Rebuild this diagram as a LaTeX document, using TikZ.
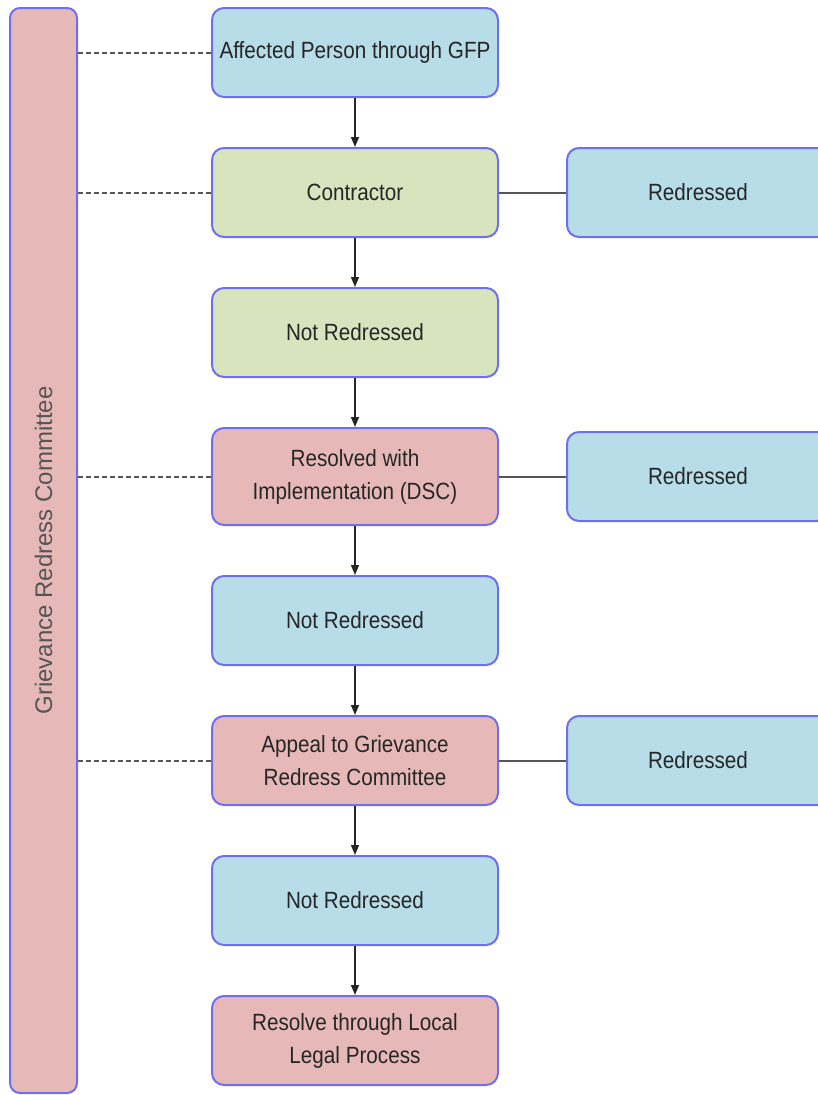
\documentclass[tikz,border=0pt]{standalone}
\usepackage{fontspec}
\setmainfont{Liberation Sans}
\newfontfamily\boxfont{Liberation Sans}[FakeStretch=0.88]
\usetikzlibrary{arrows.meta,positioning}
\usepackage{xcolor}
\definecolor{sky}{HTML}{B7DDE8}
\definecolor{leaf}{HTML}{D7E4BD}
\definecolor{rose}{HTML}{E6B9B8}
\definecolor{edge}{HTML}{6F6FEE}
\definecolor{ink}{HTML}{262626}
\definecolor{wire}{HTML}{555555}
\tikzset{
  base/.style={font=\boxfont\fontsize{23.5}{33}\selectfont,text=ink,align=center,rounded corners=12pt,draw=edge,line width=2pt,minimum width=286pt,minimum height=89pt,inner sep=3pt},
  open/.style={base,fill=sky},
  contractor/.style={base,fill=leaf},
  level/.style={base,fill=rose},
  closed/.style={base,fill=sky,minimum width=262pt},
  committee/.style={rounded corners=10pt,draw=edge,line width=2pt,fill=rose,minimum width=1085pt,minimum height=67pt,rotate=90,font=\fontsize{24}{28}\selectfont,text=wire},
  flow/.style={-{Triangle[length=10pt,width=8pt]},line width=1.5pt,draw=ink},
  link/.style={line width=2pt,draw=wire},
  tie/.style={line width=2pt,draw=wire,dash pattern=on 5pt off 3pt}
}
\begin{document}
\begin{tikzpicture}[x=1pt,y=-1pt,node distance=49pt and 67pt]
\useasboundingbox (0,0) rectangle (818,1095);
\node[committee] (grc) at (43.5,550.5) {Grievance Redress Committee};

\node[open] (gfp) at (355,52.5) {Affected Person through GFP};
\node[contractor,below=of gfp] (contractor) {Contractor};
\node[contractor,below=of contractor] (notred1) {Not Redressed};
\node[level,minimum height=97pt,below=of notred1] (dsc) {Resolved with\\Implementation (DSC)};
\node[open,below=of dsc] (notred2) {Not Redressed};
\node[level,below=of notred2] (appeal) {Appeal to Grievance\\Redress Committee};
\node[open,below=of appeal] (notred3) {Not Redressed};
\node[level,below=of notred3] (legal) {Resolve through Local\\Legal Process};

\node[closed,right=of contractor] (done1) {Redressed};
\node[closed,right=of dsc] (done2) {Redressed};
\node[closed,right=of appeal] (done3) {Redressed};

\draw[flow] (gfp) -- (contractor);
\draw[flow] (contractor) -- (notred1);
\draw[flow] (notred1) -- (dsc);
\draw[flow] (dsc) -- (notred2);
\draw[flow] (notred2) -- (appeal);
\draw[flow] (appeal) -- (notred3);
\draw[flow] (notred3) -- (legal);

\draw[link] (contractor) -- (done1);
\draw[link] (dsc) -- (done2);
\draw[link] (appeal) -- (done3);

\draw[tie] (grc.south |- gfp.west) -- (gfp.west);
\draw[tie] (grc.south |- contractor.west) -- (contractor.west);
\draw[tie] (grc.south |- dsc.west) -- (dsc.west);
\draw[tie] (grc.south |- appeal.west) -- (appeal.west);
\end{tikzpicture}
\end{document}
